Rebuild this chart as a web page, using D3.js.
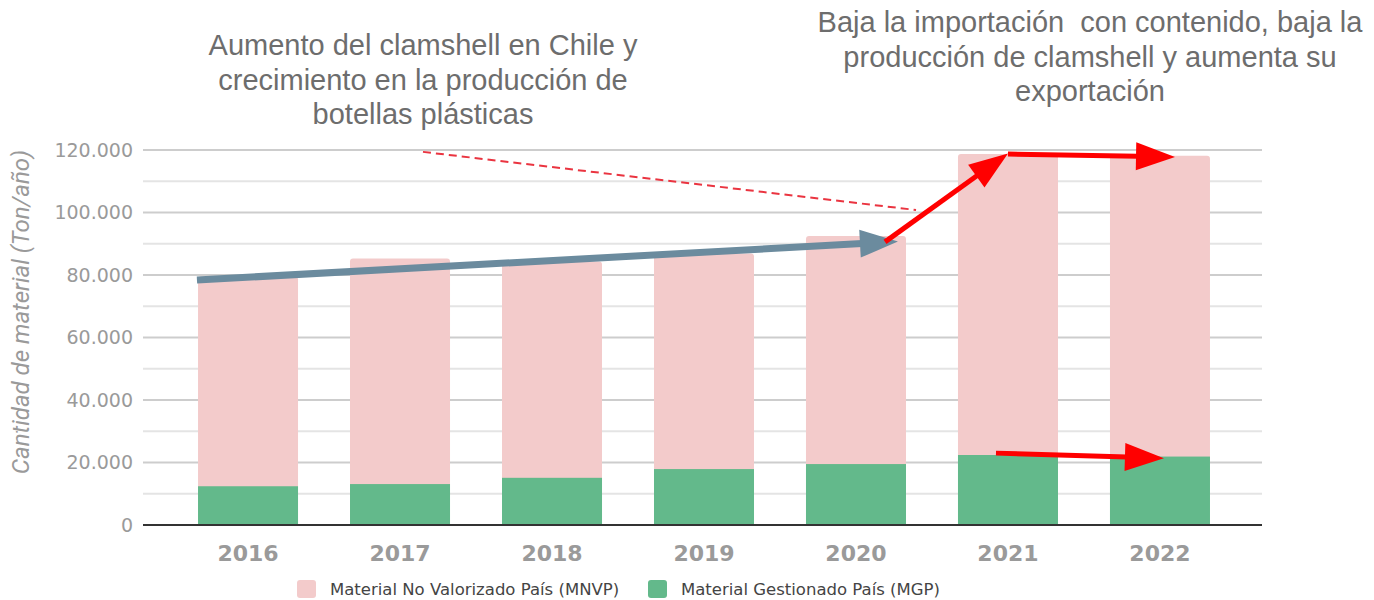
<!DOCTYPE html>
<html>
<head>
<meta charset="utf-8">
<script src="https://cdn.jsdelivr.net/npm/d3@7"></script>
<style>
  body { margin: 0; background: #fff; }
  svg { display: block; }
</style>
</head>
<body>
<svg id="chart" width="1374" height="600"></svg>
<script>
// data (Ton/año)
var years = ["2016", "2017", "2018", "2019", "2020", "2021", "2022"];
var mgp = [12400, 13100, 15100, 17900, 19500, 22400, 21900];      // Material Gestionado País
var mnvp = [67100, 72200, 69200, 69000, 73000, 96300, 96300];     // Material No Valorizado País
var yTicks = [0, 20000, 40000, 60000, 80000, 100000, 120000];
var yMinor = [10000, 30000, 50000, 70000, 90000, 110000];
var legendLabels = ["Material No Valorizado País (MNVP)", "Material Gestionado País (MGP)"];

var noteLeft = ["Aumento del clamshell en Chile y", "crecimiento en la producción de", "botellas plásticas"];
var noteRight = ["Baja la importación  con contenido, baja la", "producción de clamshell y aumenta su", "exportación"];

// annotation arrows: u = position in bar steps from the 2016 centre, v = value
var blueArrow = {from: [-0.336, 78400], to: [4.276, 90700]};
var redDash = {from: [1.151, 119400], to: [4.395, 100800]};
var redArrows = [
  {from: [4.191, 90600], to: [5.0, 118900]},
  {from: [5.0, 118700], to: [6.099, 117800]},
  {from: [4.921, 23000], to: [6.026, 21400]}
];

var pink = "#f3cbcb", green = "#63b98b";

var svg = d3.select("#chart");
var plotL = 143, plotR = 1262, plotT = 150, plotB = 525;

var x = d3.scaleBand()
  .domain(years)
  .range([plotL, 1265])
  .paddingInner(0.342)
  .paddingOuter(0.362);

var y = d3.scaleLinear()
  .domain([0, 120000])
  .range([plotB, plotT]);

var es = d3.formatLocale({decimal: ",", thousands: ".", grouping: [3], currency: ["$", ""]});
var fmt = es.format(",");

// grid
svg.append("g").selectAll("line")
  .data(yMinor)
  .enter().append("line")
  .attr("x1", plotL).attr("x2", plotR)
  .attr("y1", d => y(d)).attr("y2", d => y(d))
  .attr("stroke", "#e4e4e4").attr("stroke-width", 2);

svg.append("g").selectAll("line")
  .data(yTicks.filter(d => d > 0))
  .enter().append("line")
  .attr("x1", plotL).attr("x2", plotR)
  .attr("y1", d => y(d)).attr("y2", d => y(d))
  .attr("stroke", "#cdcdcd").attr("stroke-width", 2);

svg.append("line")
  .attr("x1", plotL).attr("x2", plotR)
  .attr("y1", y(0)).attr("y2", y(0))
  .attr("stroke", "#333").attr("stroke-width", 2);

// y axis labels
var yAxis = svg.append("g")
  .attr("transform", "translate(" + (plotL - 8) + ",0)")
  .call(d3.axisLeft(y).tickValues(yTicks).tickSize(0).tickPadding(2).tickFormat(fmt));
yAxis.select(".domain").remove();
yAxis.selectAll("text")
  .attr("fill", "#9a9a9a")
  .style("font-family", "DejaVu Sans, sans-serif")
  .style("font-size", "19px");

svg.append("text")
  .attr("transform", "translate(29,312) rotate(-90)")
  .attr("text-anchor", "middle")
  .attr("fill", "#9a9a9a")
  .style("font-family", "Roboto, sans-serif")
  .style("font-style", "italic")
  .style("font-size", "24px")
  .text("Cantidad de material (Ton/año)");

// bars
var bars = svg.append("g");
bars.selectAll("rect.mnvp")
  .data(years)
  .enter().append("rect")
  .attr("class", "mnvp")
  .attr("x", d => x(d))
  .attr("width", x.bandwidth())
  .attr("y", (d, i) => y(mgp[i] + mnvp[i]))
  .attr("height", (d, i) => y(mgp[i]) - y(mgp[i] + mnvp[i]) + 4)
  .attr("rx", 3)
  .attr("fill", pink);

bars.selectAll("rect.mgp")
  .data(years)
  .enter().append("rect")
  .attr("class", "mgp")
  .attr("x", d => x(d))
  .attr("width", x.bandwidth())
  .attr("y", (d, i) => y(mgp[i]))
  .attr("height", (d, i) => y(0) - y(mgp[i]) - 1)
  .attr("fill", green);

// x labels
svg.append("g").selectAll("text")
  .data(years)
  .enter().append("text")
  .attr("x", d => x(d) + x.bandwidth() / 2)
  .attr("y", 561)
  .attr("text-anchor", "middle")
  .attr("fill", "#9a9a9a")
  .style("font-family", "DejaVu Sans, sans-serif")
  .style("font-weight", "bold")
  .style("font-size", "22px")
  .text(d => d);

// legend
var legendX = [297, 648];
var lg = svg.append("g").selectAll("g")
  .data(legendLabels)
  .enter().append("g")
  .attr("transform", (d, i) => "translate(" + legendX[i] + ",580)");
lg.append("rect")
  .attr("width", 19).attr("height", 18).attr("rx", 3)
  .attr("fill", (d, i) => i === 0 ? pink : green);
lg.append("text")
  .attr("x", 33).attr("y", 15)
  .attr("fill", "#444")
  .style("font-family", "DejaVu Sans, sans-serif")
  .style("font-size", "16.5px")
  .text(d => d);

// notes
function note(lines, cx, y0) {
  svg.append("g").selectAll("text")
    .data(lines)
    .enter().append("text")
    .attr("x", cx)
    .attr("y", (d, i) => y0 + i * 34.5)
    .attr("text-anchor", "middle")
    .attr("fill", "#6d6d6d")
    .style("font-family", "Liberation Sans, Arial, sans-serif")
    .style("font-size", "29px")
    .style("white-space", "pre")
    .text(d => d);
}
note(noteLeft, 423, 55);
note(noteRight, 1090, 32);

// arrows
function px(p) {
  return [x(years[0]) + x.bandwidth() / 2 + p[0] * x.step(), y(p[1])];
}

function arrow(a, color, w, headLen, headW) {
  var p1 = px(a.from), p2 = px(a.to);
  var dx = p2[0] - p1[0], dy = p2[1] - p1[1];
  var len = Math.sqrt(dx * dx + dy * dy);
  var ux = dx / len, uy = dy / len;
  var bx = p2[0] - ux * headLen, by = p2[1] - uy * headLen;
  var g = svg.append("g");
  g.append("line")
    .attr("x1", p1[0]).attr("y1", p1[1])
    .attr("x2", bx + ux * 2).attr("y2", by + uy * 2)
    .attr("stroke", color).attr("stroke-width", w);
  g.append("polygon")
    .attr("points", [
      p2,
      [bx - uy * headW / 2, by + ux * headW / 2],
      [bx + uy * headW / 2, by - ux * headW / 2]
    ].map(d => d.join(",")).join(" "))
    .attr("fill", color);
}

arrow(blueArrow, "#6b8b9e", 7, 38, 28);

var d1 = px(redDash.from), d2 = px(redDash.to);
svg.append("line")
  .attr("x1", d1[0]).attr("y1", d1[1])
  .attr("x2", d2[0]).attr("y2", d2[1])
  .attr("stroke", "#ea3440")
  .attr("stroke-width", 2)
  .attr("stroke-dasharray", "8,5");

redArrows.forEach(function(a) {
  arrow(a, "#ff0000", 5, 39, 28);
});
</script>
</body>
</html>
